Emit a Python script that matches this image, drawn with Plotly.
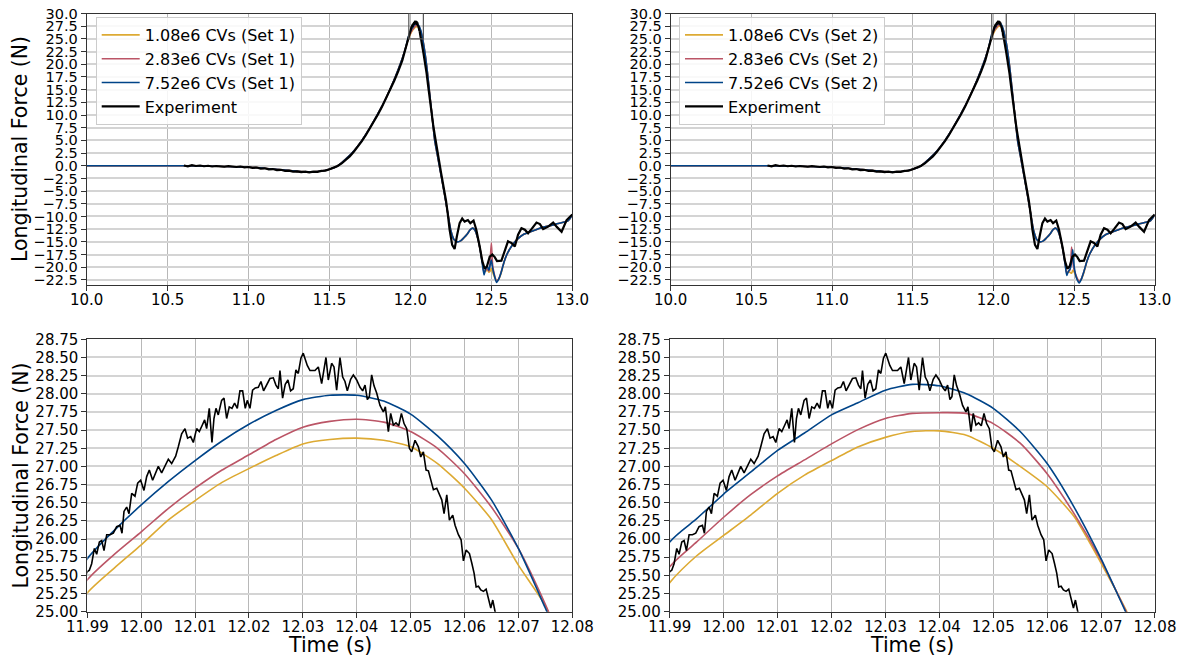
import plotly.graph_objects as go

FONT = "DejaVu Sans"
C_OR = "#DDAA33"
C_RD = "#BB5566"
C_BL = "#004488"
C_EX = "#000000"

# ---------------- Experiment (same in both columns) ----------------
exp_pre_t = [10.600, 10.625, 10.650, 10.675, 10.700, 10.725, 10.750, 10.775, 10.800, 10.825,
             10.850, 10.875, 10.900, 10.925, 10.950, 10.975, 11.000, 11.025, 11.050, 11.075,
             11.100, 11.125, 11.150, 11.175, 11.200, 11.225, 11.250, 11.275, 11.300, 11.325,
             11.350, 11.375, 11.400, 11.425, 11.450, 11.475, 11.500, 11.525, 11.550, 11.575,
             11.600, 11.625, 11.650, 11.675, 11.700, 11.725, 11.750, 11.775, 11.800, 11.825,
             11.850, 11.875, 11.900, 11.925, 11.950, 11.970, 11.980]
exp_pre_f = [0.05, -0.10, 0.10, -0.05, 0.05, -0.10, 0.00, -0.15, -0.05, -0.10,
             -0.20, -0.05, -0.15, -0.25, -0.15, -0.30, -0.25, -0.40, -0.35, -0.55,
             -0.50, -0.70, -0.65, -0.85, -0.80, -1.00, -0.95, -1.15, -1.10, -1.25,
             -1.15, -1.30, -1.15, -1.20, -1.00, -0.95, -0.70, -0.45, -0.05, 0.45,
             1.15, 1.85, 2.75, 3.70, 4.85, 6.05, 7.35, 8.75, 10.15, 11.65,
             13.25, 14.95, 16.75, 18.65, 20.75, 23.10, 24.30]

exp_peak_t = [11.99000, 11.99037, 11.99080, 11.99130, 11.99173, 11.99223, 11.99266, 11.99309, 11.99359, 11.99421,
              11.99482, 11.99544, 11.99606, 11.99643, 11.99680, 11.99730, 11.99773, 11.99823, 11.99884, 11.99934,
              11.99989, 12.00051, 12.00101, 12.00150, 12.00212, 12.00255, 12.00317, 12.00379, 12.00441, 12.00503,
              12.00565, 12.00639, 12.00688, 12.00750, 12.00812, 12.00861, 12.00917, 12.00967, 12.01028, 12.01078,
              12.01134, 12.01177, 12.01214, 12.01263, 12.01313, 12.01350, 12.01387, 12.01430, 12.01492, 12.01536,
              12.01585, 12.01634, 12.01684, 12.01733, 12.01783, 12.01832, 12.01882, 12.01931, 12.01968, 12.02018,
              12.02067, 12.02117, 12.02173, 12.02222, 12.02271, 12.02327, 12.02389, 12.02451, 12.02500, 12.02544,
              12.02575, 12.02624, 12.02673, 12.02723, 12.02772, 12.02822, 12.02871, 12.02915, 12.02964, 12.03007,
              12.03082, 12.03132, 12.03225, 12.03287, 12.03349, 12.03429, 12.03472, 12.03534, 12.03578, 12.03627,
              12.03689, 12.03739, 12.03782, 12.03825, 12.03887, 12.03937, 12.03999, 12.04061, 12.04110, 12.04154,
              12.04197, 12.04234, 12.04277, 12.04321, 12.04370, 12.04432, 12.04494, 12.04531, 12.04568, 12.04587,
              12.04630, 12.04680, 12.04729, 12.04779, 12.04829, 12.04878, 12.04928, 12.04977, 12.05020, 12.05082,
              12.05144, 12.05188, 12.05237, 12.05287, 12.05330, 12.05373, 12.05423, 12.05485, 12.05534, 12.05578,
              12.05621, 12.05671, 12.05720, 12.05782, 12.05825, 12.05887, 12.05937, 12.05980, 12.06030, 12.06092,
              12.06135, 12.06178, 12.06216, 12.06259, 12.06302, 12.06352, 12.06401, 12.06444, 12.06488, 12.06525,
              12.06568, 12.06630]
exp_peak_f = [25.55, 25.57, 25.66, 25.87, 25.79, 25.96, 25.98, 25.84, 26.06, 26.06,
              26.08, 26.17, 26.19, 26.08, 26.38, 26.44, 26.35, 26.63, 26.59, 26.77,
              26.81, 26.67, 26.86, 26.95, 26.81, 26.90, 27.00, 26.91, 27.00, 27.10,
              27.04, 27.14, 27.27, 27.45, 27.52, 27.39, 27.41, 27.33, 27.52, 27.48,
              27.57, 27.64, 27.52, 27.80, 27.33, 27.66, 27.80, 27.71, 27.91, 27.94,
              27.66, 27.82, 27.80, 27.87, 27.80, 28.04, 28.04, 27.80, 27.91, 27.80,
              28.05, 28.08, 28.09, 28.17, 28.04, 28.12, 28.21, 28.22, 28.12, 28.07,
              28.32, 27.94, 28.13, 28.19, 28.04, 28.07, 28.33, 28.28, 28.49, 28.56,
              28.39, 28.32, 28.32, 28.37, 28.14, 28.50, 28.19, 28.42, 28.37, 28.05,
              28.50, 28.23, 28.17, 28.04, 28.20, 28.26, 28.19, 28.09, 28.04, 28.12,
              27.92, 27.96, 28.26, 28.11, 28.01, 27.84, 27.75, 27.82, 27.57, 27.48,
              27.73, 27.57, 27.60, 27.56, 27.73, 27.59, 27.52, 27.25, 27.20, 27.36,
              27.27, 27.13, 27.20, 26.95, 26.94, 26.81, 26.68, 26.70, 26.61, 26.54,
              26.35, 26.61, 26.26, 26.33, 26.19, 26.06, 25.99, 25.70, 25.85, 25.80,
              25.67, 25.53, 25.34, 25.35, 25.30, 25.28, 25.31, 25.16, 25.05, 25.16,
              25.00, 24.93]

exp_post_t = [12.070, 12.080, 12.090, 12.100, 12.110, 12.120, 12.130, 12.140, 12.150, 12.160,
              12.170, 12.180, 12.190, 12.200, 12.210, 12.220, 12.230, 12.242, 12.258, 12.273,
              12.287, 12.304, 12.320, 12.335, 12.355, 12.370, 12.390, 12.407, 12.428, 12.444,
              12.459, 12.473, 12.490, 12.506, 12.521, 12.535, 12.562, 12.583, 12.603, 12.624,
              12.645, 12.665, 12.686, 12.707, 12.727, 12.748, 12.779, 12.800, 12.820, 12.851,
              12.882, 12.903, 12.934, 12.965, 13.000]
exp_post_f = [24.20, 22.30, 20.40, 18.20, 15.60, 12.90, 10.50, 8.20, 6.10, 4.00,
              1.90, 0.20, -1.50, -3.30, -5.00, -6.90, -9.30, -12.60, -15.60, -16.40,
              -13.90, -11.30, -10.40, -11.00, -10.70, -11.30, -10.80, -12.60, -15.90, -18.80,
              -20.30, -19.80, -17.90, -17.50, -18.00, -18.80, -18.70, -16.90, -14.90, -15.20,
              -15.90, -13.60, -12.30, -12.60, -13.30, -12.50, -11.20, -11.50, -12.50, -12.00,
              -11.20, -12.00, -13.00, -10.70, -9.60]

# ---------------- Simulations ----------------
sim_pre_t = [10.00, 10.60, 10.80, 11.00, 11.10, 11.20, 11.30, 11.40, 11.45, 11.50,
             11.55, 11.60, 11.65, 11.70, 11.75, 11.80, 11.85, 11.90, 11.95, 11.97]
sim_pre_f = [0.0, 0.0, -0.1, -0.3, -0.5, -0.8, -1.1, -1.2, -1.05, -0.7,
             -0.05, 1.3, 2.9, 5.0, 7.5, 10.3, 13.4, 17.0, 21.2, 23.2]

peak_t = [11.990, 11.995, 12.000, 12.005, 12.010, 12.015, 12.020, 12.025, 12.030,
          12.035, 12.040, 12.045, 12.050, 12.055, 12.060, 12.065, 12.070, 12.075]

s1_or_peak = [25.26, 25.60, 25.92, 26.26, 26.53, 26.78, 26.97, 27.15, 27.31,
              27.37, 27.39, 27.36, 27.27, 27.04, 26.70, 26.27, 25.64, 25.08]
s1_rd_peak = [25.44, 25.79, 26.10, 26.42, 26.70, 26.95, 27.16, 27.37, 27.54,
              27.62, 27.65, 27.61, 27.48, 27.25, 26.90, 26.44, 25.87, 25.10]
s1_bl_peak = [25.73, 26.12, 26.47, 26.79, 27.08, 27.35, 27.58, 27.77, 27.92,
              27.98, 27.98, 27.90, 27.72, 27.42, 27.04, 26.54, 25.87, 25.05]

s2_or_peak = [25.40, 25.77, 26.05, 26.33, 26.63, 26.88, 27.08, 27.27, 27.40,
              27.48, 27.49, 27.43, 27.25, 27.00, 26.72, 26.31, 25.67, 24.97]
s2_rd_peak = [25.62, 25.96, 26.30, 26.61, 26.87, 27.09, 27.31, 27.51, 27.66,
              27.73, 27.74, 27.73, 27.59, 27.32, 26.90, 26.35, 25.71, 24.95]
s2_bl_peak = [25.96, 26.28, 26.62, 26.92, 27.22, 27.46, 27.71, 27.88, 28.05,
              28.13, 28.11, 28.00, 27.80, 27.48, 27.04, 26.44, 25.73, 24.93]

post_a_t = [12.080, 12.090, 12.100, 12.110, 12.120, 12.130, 12.140, 12.150, 12.170, 12.190,
            12.210, 12.230, 12.250, 12.270, 12.290, 12.310, 12.330, 12.350, 12.370, 12.385,
            12.400, 12.415, 12.430]
post_a_f = [24.2, 22.2, 19.8, 16.9, 13.9, 10.9, 7.9, 5.0, 1.5, -2.0,
            -5.5, -9.2, -12.8, -14.6, -15.0, -14.8, -14.2, -13.5, -12.6, -12.3,
            -12.8, -14.2, -16.4]

seg_t = [12.445, 12.455, 12.465, 12.475, 12.485, 12.492, 12.500, 12.508, 12.520, 12.532, 12.545, 12.560]
s1_or_seg = [-19.0, -20.8, -20.8, -20.5, -21.0, -20.8, -20.2, -21.0, -22.0, -22.6, -22.4, -21.2]
s1_rd_seg = [-19.2, -21.0, -20.6, -20.3, -20.8, -19.0, -15.2, -19.6, -21.6, -22.7, -22.3, -21.0]
s1_bl_seg = [-19.5, -21.5, -20.3, -19.8, -20.6, -19.6, -18.6, -20.2, -21.8, -23.0, -22.4, -21.1]
s2_or_seg = [-19.0, -20.9, -21.0, -21.0, -21.2, -20.6, -20.9, -21.5, -22.3, -22.7, -22.4, -21.2]
s2_rd_seg = [-19.2, -21.2, -20.9, -20.5, -16.0, -18.8, -20.4, -21.2, -22.2, -22.8, -22.3, -21.0]
s2_bl_seg = [-19.5, -21.6, -20.8, -20.4, -19.0, -16.5, -19.6, -21.3, -22.5, -23.1, -22.4, -21.0]

post_b_t = [12.580, 12.600, 12.630, 12.660, 12.700, 12.750, 12.800, 12.850, 12.900, 12.950, 12.975, 13.000]
post_b_f = [-18.8, -17.2, -15.6, -14.5, -13.5, -12.9, -12.3, -11.9, -11.5, -11.1, -10.8, -9.7]

labels_1 = ["1.08e6 CVs (Set 1)", "2.83e6 CVs (Set 1)", "7.52e6 CVs (Set 1)", "Experiment"]
labels_2 = ["1.08e6 CVs (Set 2)", "2.83e6 CVs (Set 2)", "7.52e6 CVs (Set 2)", "Experiment"]

# ---------------- Build ----------------
exp_t = exp_pre_t + exp_peak_t + exp_post_t
exp_f = exp_pre_f + exp_peak_f + exp_post_f
sim_t = sim_pre_t + peak_t + post_a_t + seg_t + post_b_t


def sim_f(peak, seg):
    return sim_pre_f + peak + post_a_f + seg + post_b_f


set1 = [sim_f(s1_or_peak, s1_or_seg), sim_f(s1_rd_peak, s1_rd_seg), sim_f(s1_bl_peak, s1_bl_seg)]
set2 = [sim_f(s2_or_peak, s2_or_seg), sim_f(s2_rd_peak, s2_rd_seg), sim_f(s2_bl_peak, s2_bl_seg)]
colors = [C_OR, C_RD, C_BL]

fig = go.Figure()

panels = [
    ("x", "y", set1, labels_1, "legend", True),
    ("x2", "y2", set2, labels_2, "legend2", True),
    ("x3", "y3", set1, labels_1, "legend", False),
    ("x4", "y4", set2, labels_2, "legend2", False),
]

for xa, ya, data, labs, leg, top in panels:
    for vals, col, lab in zip(data, colors, labs[:3]):
        fig.add_trace(go.Scatter(x=sim_t, y=vals, mode="lines", name=lab,
                                 line=dict(color=col, width=1.6, shape="spline", smoothing=0.6),
                                 xaxis=xa, yaxis=ya, legend=leg, showlegend=top))
    fig.add_trace(go.Scatter(x=exp_t, y=exp_f, mode="lines", name=labs[3],
                             line=dict(color=C_EX, width=2.2 if top else 1.6),
                             xaxis=xa, yaxis=ya, legend=leg, showlegend=top))


def base_axis(fsize):
    return dict(showline=True, linecolor="#333333", linewidth=1, mirror=True,
                ticks="outside", ticklen=5, tickwidth=1, tickcolor="#333333",
                tickfont=dict(family=FONT, size=fsize, color="black"),
                zeroline=False, showgrid=True, automargin=False)


def xax(domain, anchor, rng, tick0, dtick, fmt):
    d = base_axis(15)
    d.update(domain=domain, anchor=anchor, range=rng, tickmode="linear",
             tick0=tick0, dtick=dtick, tickformat=fmt, ticklabelstandoff=-4,
             gridcolor="#b8b8b8", gridwidth=1)
    return d


def yax(domain, anchor, rng, tick0, dtick, fmt, fsize):
    d = base_axis(fsize)
    d.update(domain=domain, anchor=anchor, range=rng, tickmode="linear",
             tick0=tick0, dtick=dtick, tickformat=fmt,
             gridcolor="#d4d4d4", gridwidth=1.5)
    return d


W, H = 1180, 657
xL_top = [86.7 / W, 572.3 / W]
xR_top = [670.7 / W, 1154.7 / W]
xL_bot = [87.3 / W, 572.3 / W]
xR_bot = [669.7 / W, 1155.0 / W]
y_top = [1 - 285.0 / H, 1 - 13.5 / H]
y_bot = [1 - 611.7 / H, 1 - 339.3 / H]

top_xr = [10.0, 13.0001]
top_yr = [-23.5, 30.001]
bot_xr = [11.99 - 0.00001, 12.08 + 0.00001]
bot_yr = [25.0 - 0.0005, 28.75 + 0.0005]

legend_common = dict(font=dict(family=FONT, size=16, color="black"),
                     bgcolor="rgba(255,255,255,0.85)", bordercolor="#cccccc", borderwidth=1,
                     xanchor="left", yanchor="top", tracegroupgap=0, itemwidth=38)

fig.update_layout(
    width=W, height=H,
    margin=dict(l=0, r=0, t=0, b=0, pad=0, autoexpand=False),
    paper_bgcolor="white", plot_bgcolor="white",
    font=dict(family=FONT, color="black"),
    xaxis=xax(xL_top, "y", top_xr, 10.0, 0.5, ".1f"),
    yaxis=yax(y_top, "x", top_yr, 0.0, 2.5, ".1f", 14.5),
    xaxis2=xax(xR_top, "y2", top_xr, 10.0, 0.5, ".1f"),
    yaxis2=yax(y_top, "x2", top_yr, 0.0, 2.5, ".1f", 14.5),
    xaxis3=xax(xL_bot, "y3", bot_xr, 11.99, 0.01, ".2f"),
    yaxis3=yax(y_bot, "x3", bot_yr, 25.0, 0.25, ".2f", 15),
    xaxis4=xax(xR_bot, "y4", bot_xr, 11.99, 0.01, ".2f"),
    yaxis4=yax(y_bot, "x4", bot_yr, 25.0, 0.25, ".2f", 15),
    legend=dict(x=95.7 / W, y=1 - 17.0 / H, **legend_common),
    legend2=dict(x=679.0 / W, y=1 - 17.0 / H, **legend_common),
    showlegend=True,
)

# zoom boxes on top panels
for xr, yr in (("x", "y"), ("x2", "y2")):
    fig.add_shape(type="rect", xref=xr, yref=yr, x0=11.99, x1=12.08, y0=25.0, y1=30.0,
                  line=dict(color="#555555", width=1.2), fillcolor="rgba(0,0,0,0)")

title_font = dict(family=FONT, size=20.5, color="black")
for yc in (1 - 149.0 / H, 1 - 475.5 / H):
    fig.add_annotation(text="Longitudinal Force (N)", xref="paper", yref="paper",
                       x=20.0 / W, y=yc, textangle=-90, showarrow=False,
                       xanchor="center", yanchor="middle", font=title_font)
for xc in ((87.3 + 572.3) / 2 / W, (669.7 + 1155.0) / 2 / W):
    fig.add_annotation(text="Time (s)", xref="paper", yref="paper",
                       x=xc, y=1 - 645.0 / H, showarrow=False,
                       xanchor="center", yanchor="middle", font=title_font)

fig.write_html("out.html")
